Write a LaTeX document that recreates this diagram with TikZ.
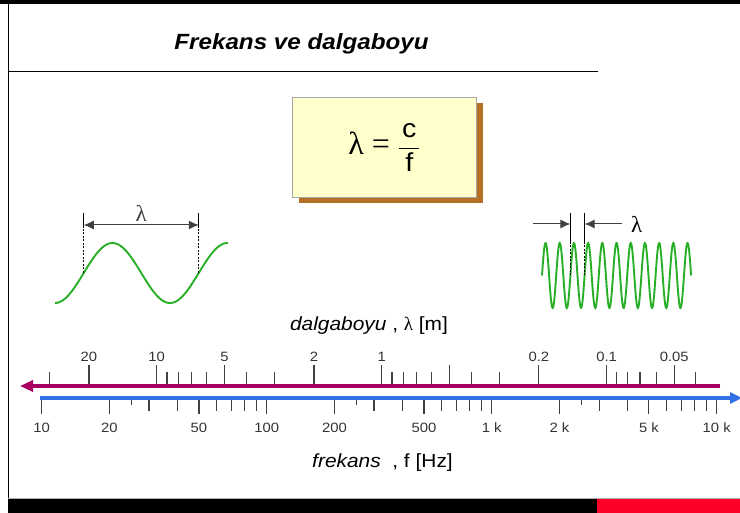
\documentclass[tikz,border=0pt]{standalone}
\usepackage{fontspec}
\setmainfont{Liberation Sans}[FakeStretch=1.1]
\newfontfamily\lamfont{Liberation Serif}
\usetikzlibrary{positioning,arrows.meta,shadows}

\definecolor{wavegreen}{RGB}{40,175,40}
\definecolor{lamaxis}{RGB}{168,0,98}
\definecolor{freqaxis}{RGB}{50,112,230}
\definecolor{boxfill}{RGB}{255,255,204}
\definecolor{boxshadow}{RGB}{180,112,36}
\definecolor{barred}{RGB}{255,0,40}

% positions on the two log scales
\newcommand{\fpos}[1]{41.7+225*log10(#1/10)}
\newcommand{\lpos}[1]{381.7-225*log10(#1)}

\begin{document}
\begin{tikzpicture}[x=1pt, y=-1pt, font=\fontsize{13.5}{16}\selectfont,
		scaletick/.style={line width=1.1pt, black!75},
		ticklabel/.style={text=black!80, inner sep=0pt, anchor=base},
		wave/.style={wavegreen, line width=1.9pt},
		guideline/.style={line width=0.8pt, black},
		guidedash/.style={guideline, dash pattern=on 2pt off 1.5pt},
		lamdim/.style={-{Latex[length=10pt,width=9pt]}, line width=1pt, black!75},
		lamdimboth/.style={lamdim, {Latex[length=10pt,width=9pt]}-{Latex[length=10pt,width=9pt]}},
		lamsym/.style={font=\fontsize{23}{25}\selectfont\lamfont, inner sep=0pt},
		axislabel/.style={font=\fontsize{19}{22}\selectfont}]
		\useasboundingbox (0,0) rectangle (740,513);

		% frame
		\fill[black] (0,0) rectangle (740,4);
		\draw[line width=1.2pt] (8.5,4) -- (8.5,499);
		\node[font=\fontsize{22}{26}\selectfont\bfseries\itshape] (title) at (301.5,44) {Frekans ve dalgaboyu};
		\draw[line width=1pt] (8,72) -- (598,72);
		\draw[gray!60, line width=0.8pt] (8,498.5) -- (740,498.5);
		\fill[black] (8,499) rectangle (597,513);
		\fill[barred] (597,499) rectangle (740,513);

		% formula
		\node[draw=gray!70, fill=boxfill, minimum width=184pt, minimum height=100pt,
		drop shadow={shadow xshift=6pt, shadow yshift=-5pt, fill=boxshadow, opacity=1},
		font=\fontsize{32}{36}\selectfont] (formula) at (384.5,147.6)
		{{\lamfont λ = }\(\displaystyle\frac{\mbox{\fontsize{26}{30}\selectfont\kern3pt c\kern3pt}}{\mbox{\fontsize{26}{30}\selectfont f}}\)\hspace{8pt}};

		% long wave
		\draw[wave] plot[domain=55:228, samples=120] (\x,{273+30*cos((\x-55)/115*360)});
		\foreach \xx/\nm in {83.75/a, 198.75/b} {
			\coordinate (lcross\nm) at (\xx,273);
			\coordinate (lmid\nm) at (\xx,228);
			\coordinate (ltop\nm) at (\xx,213);
			\coordinate (larr\nm) at (\xx,225);
		}
		\draw[guidedash] (lcrossa) -- (lmida);
		\draw[guideline] (lmida) -- (ltopa);
		\draw[guidedash] (lcrossb) -- (lmidb);
		\draw[guideline] (lmidb) -- (ltopb);
		\draw[lamdimboth] (larra) -- node[lamsym, above=3pt] (llam) {λ} (larrb);

		% short wave
		\draw[wave] plot[domain=542:691.1, samples=320] (\x,{275.5-32.5*sin((\x-542)/14.2*360)});
		\foreach \xx/\nm in {570.4/a, 584.6/b} {
			\coordinate (rcross\nm) at (\xx,275.5);
			\coordinate (rmid\nm) at (\xx,243);
			\coordinate (rtop\nm) at (\xx,213);
			\coordinate (rarr\nm) at (\xx,224);
		}
		\coordinate (rfara) at (533,224);
		\coordinate (rfarb) at (622,224);
		\draw[guidedash] (rcrossa) -- (rmida);
		\draw[guideline] (rmida) -- (rtopa);
		\draw[guidedash] (rcrossb) -- (rmidb);
		\draw[guideline] (rmidb) -- (rtopb);
		\draw[lamdim] (rfara) -- (rarra);
		\draw[lamdim] (rfarb) -- (rarrb);
		\node[lamsym, right=9pt of rfarb] (rlam) {λ};

		% wavelength scale
		\foreach \l [count=\i] in {20,10,5,2,1,0.2,0.1,0.05} {
			\draw[scaletick] ({\lpos{\l}},385) -- ++(0,-20);
			\node[ticklabel] (ltick\i) at ({\lpos{\l}},362) {\l};
		}
		\draw[scaletick] ({\lpos{0.5}},385) -- ++(0,-20);
		\foreach \l in {30,9,8,7,6,4,3,0.9,0.8,0.7,0.6,0.4,0.3,0.09,0.08,0.07,0.06,0.04}
			\draw[scaletick] ({\lpos{\l}},385) -- ++(0,-13);

		% frequency scale
		\foreach \f/\t [count=\i] in {10/10,20/20,50/50,100/100,200/200,500/500,1000/1 k,2000/2 k,5000/5 k,10000/10 k} {
			\draw[scaletick] ({\fpos{\f}},399) -- ++(0,15);
			\node[ticklabel] (ftick\i) at ({\fpos{\f}},433) {\t};
		}
		\foreach \f in {30,40,60,70,80,90,300,400,600,700,800,900,3000,4000,6000,7000,8000,9000}
			\draw[scaletick] ({\fpos{\f}},399) -- ++(0,12);
		\foreach \f in {25,250,2500}
			\draw[scaletick] ({\fpos{\f}},399) -- ++(0,6);

		% axes
		\coordinate (lamstart) at (720,386);
		\coordinate (lamend) at (20,386);
		\coordinate (fstart) at (40,398);
		\coordinate (fend) at (742,398);
		\draw[lamaxis, line width=4pt, -{Triangle[length=13pt,width=11pt]}] (lamstart) -- (lamend);
		\draw[freqaxis, line width=3.5pt, -{Triangle[length=12pt,width=11pt]}] (fstart) -- (fend);

		\node[axislabel] (lamlabel) at (369,326) {\textit{dalgaboyu} , {\lamfont λ} [m]};
		\node[axislabel] (flabel) at (382.5,463) {\textit{frekans}\ \ , f [Hz]};
	\end{tikzpicture}
\end{document}
